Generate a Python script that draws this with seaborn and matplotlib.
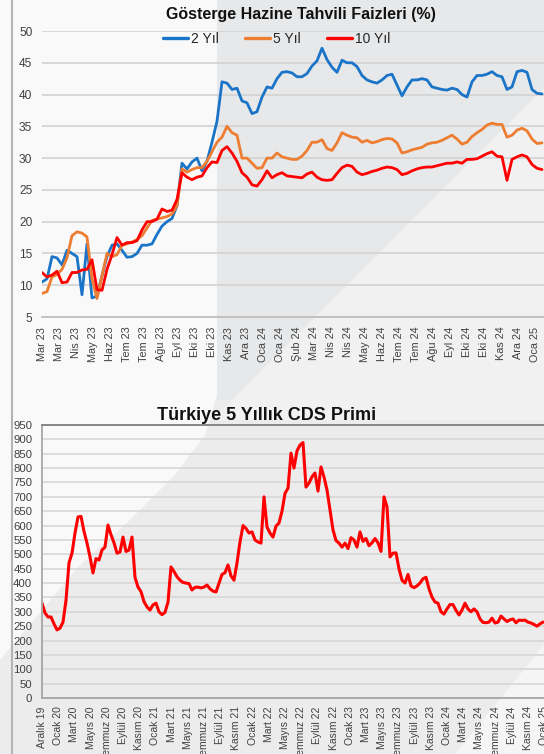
import numpy as np
import pandas as pd
import matplotlib
matplotlib.use("Agg")
import matplotlib.pyplot as plt
import seaborn as sns
from matplotlib.patches import Polygon
from matplotlib.lines import Line2D

# ---------------- data: bond yields (weekly) ----------------
bond_start = "2023-03-01"
bond_labels = ["2 Yıl", "5 Yıl", "10 Yıl"]
bond_2y = [10.5, 11, 14.5, 14.3, 13.2, 15.5, 15, 14.5, 8.5, 16.5,
           8, 8.3, 11.5, 14.5, 16.3, 16.5, 15.5, 14.4, 14.5, 15,
           16.3, 16.3, 16.5, 18, 19.3, 20, 20.5, 22.5, 29.2, 28.3,
           29.4, 30, 28, 29.5, 32.5, 35.8, 42, 41.8, 40.8, 41,
           39, 38.7, 37, 37.3, 39.6, 41.2, 41, 42.5, 43.5, 43.6,
           43.4, 42.8, 42.8, 43.3, 44.5, 45.3, 47.3, 45.5, 44.3, 43.5,
           45.4, 45, 45, 44.4, 43, 42.3, 42, 41.8, 42.3, 43,
           43.2, 41.5, 39.8, 41.2, 42.3, 42.3, 42.5, 42.3, 41.2, 41,
           40.8, 40.7, 41, 40.8, 40, 39.6, 42, 43, 43, 43.2,
           43.6, 43, 42.8, 40.8, 41.2, 43.6, 43.8, 43.5, 40.8, 40.2,
           40.1]
bond_5y = [8.7, 9, 11.3, 11.7, 12.5, 14.3, 17.8, 18.4, 18.2, 17.6,
           11, 7.9, 11.5, 15, 14.5, 14.8, 16.3, 16.5, 16.8, 17.2,
           17.8, 19, 20.2, 20.4, 20.6, 20.8, 21.2, 22.5, 28.3, 27.8,
           28.2, 28.5, 28.5, 29.5, 31, 32.5, 33.3, 35, 34, 33.6,
           30, 30, 29.2, 28.4, 28.5, 30, 30, 30.8, 30.2, 30,
           29.8, 29.8, 30.3, 31.2, 32.5, 32.5, 32.9, 31.5, 31.2, 32.4,
           34, 33.6, 33.3, 33.2, 32.5, 32.8, 32.4, 32.6, 32.9, 33.1,
           33, 32.4, 30.8, 31, 31.3, 31.5, 31.7, 32.2, 32.4, 32.5,
           32.8, 33.2, 33.6, 33, 32.2, 32.5, 33.4, 34, 34.5, 35.2,
           35.5, 35.3, 35.3, 33.3, 33.6, 34.4, 34.7, 34.3, 33, 32.3,
           32.4]
bond_10y = [12, 11.3, 11.6, 12.2, 10.4, 10.5, 12, 12, 12.4, 12.5,
            14, 9.3, 9.2, 12.5, 14.8, 17.5, 16.3, 16.7, 16.7, 17,
            18.7, 20, 20, 20.4, 22, 21.6, 21.8, 23.5, 27.7, 27,
            26.6, 27, 27.2, 28.5, 29.4, 29.3, 31.2, 31.8, 30.8, 29.5,
            27.7, 27, 25.8, 25.6, 26.6, 28, 26.9, 27.4, 27.7, 27.2,
            27.1, 27, 26.9, 27.5, 27.8, 27, 26.6, 26.5, 26.6, 27.6,
            28.5, 28.9, 28.7, 27.8, 27.4, 27.6, 27.9, 28.1, 28.4, 28.6,
            28.5, 28.2, 27.4, 27.6, 28, 28.3, 28.5, 28.6, 28.6, 28.8,
            29, 29.2, 29.2, 29.4, 29.2, 29.8, 29.8, 29.9, 30.3, 30.7,
            31, 30.3, 30.2, 26.5, 29.8, 30.2, 30.5, 30.2, 29, 28.4,
            28.2]
bond_ticks = ["Mar 23", "Mar 23", "Nis 23", "May 23", "Haz 23", "Tem 23", "Tem 23",
              "Ağu 23", "Eyl 23", "Eki 23", "Eki 23", "Kas 23", "Ara 23", "Oca 24",
              "Oca 24", "Şub 24", "Mar 24", "Nis 24", "Nis 24", "May 24", "Haz 24",
              "Tem 24", "Tem 24", "Ağu 24", "Eyl 24", "Eki 24", "Eki 24", "Kas 24",
              "Ara 24", "Oca 25"]

# ---------------- data: CDS (every 11 days) ----------------
cds_start = "2019-12-01"
cds_vals = [330, 296, 282, 282, 258, 237, 243, 264, 340, 470,
            504, 574, 630, 632, 580, 539, 491, 435, 485, 480,
            515, 525, 602, 568, 540, 504, 508, 560, 510, 515,
            560, 420, 386, 370, 335, 317, 306, 324, 330, 300,
            290, 298, 334, 456, 440, 422, 410, 402, 400, 398,
            376, 385, 386, 383, 386, 393, 380, 372, 369, 400,
            430, 436, 463, 425, 410, 470, 543, 600, 590, 574,
            578, 550, 543, 539, 700, 595, 574, 560, 598, 609,
            650, 712, 730, 852, 800, 860, 880, 889, 734, 748,
            770, 783, 720, 804, 769, 724, 654, 585, 548, 539,
            525, 539, 520, 558, 550, 525, 578, 545, 555, 530,
            540, 555, 540, 510, 700, 665, 491, 504, 505, 450,
            410, 400, 430, 390, 384, 390, 400, 415, 420, 380,
            351, 334, 330, 300, 292, 310, 325, 325, 305, 289,
            306, 330, 310, 300, 310, 300, 275, 263, 262, 264,
            278, 261, 264, 285, 275, 266, 272, 275, 262, 271,
            270, 271, 264, 261, 256, 250, 258, 264]
cds_ticks = ["Aralık 19", "Ocak 20", "Mart 20", "Mayıs 20", "Temmuz 20", "Eylül 20",
             "Kasım 20", "Ocak 21", "Mart 21", "Mayıs 21", "Temmuz 21", "Eylül 21",
             "Kasım 21", "Ocak 22", "Mart 22", "Mayıs 22", "Temmuz 22", "Eylül 22",
             "Kasım 22", "Ocak 23", "Mart 23", "Mayıs 23", "Temmuz 23", "Eylül 23",
             "Kasım 23", "Ocak 24", "Mart 24", "Mayıs 24", "Temmuz 24", "Eylül 24",
             "Kasım 24", "Ocak 25"]

# ---------------- figure ----------------
sns.set_theme(style="white")
plt.rcParams["font.family"] = ["Liberation Sans", "DejaVu Sans"]

W, H = 544, 754
fig = plt.figure(figsize=(W / 100, H / 100), dpi=100)
fig.patch.set_facecolor("#ececed")


def fp(pts):
    return [(x / W, 1 - y / H) for x, y in pts]


bg_shapes = [
    ([(0, 0), (217, 0), (217, 395), (205, 435), (175, 475), (130, 520), (80, 565), (0, 660)], "#f9f9f9"),
    ([(217, 0), (544, 0), (544, 88), (232, 400), (217, 400)], "#e7e8ea"),
    ([(544, 88), (544, 420), (212, 420)], "#f1f1f2"),
    ([(544, 645), (544, 754), (455, 754)], "#f5f5f5"),
]
for pts, col in bg_shapes:
    fig.add_artist(Polygon(fp(pts), closed=True, transform=fig.transFigure,
                           facecolor=col, edgecolor="none", zorder=-5))
fig.add_artist(Line2D([12 / W, 12 / W], [0, 1], transform=fig.transFigure,
                      color="#b4b4b4", lw=1.5, zorder=-4))

tick_color = "#404040"

# ---------------- top chart ----------------
d0 = pd.Timestamp(bond_start)
n = len(bond_2y)
dates = d0 + pd.to_timedelta(np.arange(n) * 7, unit="D")
df = pd.DataFrame({"date": dates, "2 Yıl": bond_2y, "5 Yıl": bond_5y, "10 Yıl": bond_10y})

ax1 = fig.add_axes([42 / W, 1 - 317 / H, 502 / W, 286 / H])
ax1.set_facecolor("none")
colors = {"2 Yıl": "#1a74c7", "5 Yıl": "#ed7d31", "10 Yıl": "#ff0000"}
for lab in bond_labels:
    sns.lineplot(data=df, x="date", y=lab, ax=ax1, color=colors[lab], lw=2.0, legend=False)

ax1.set_xlim(d0, d0 + pd.Timedelta(days=702.8))
ax1.set_ylim(5, 50)
ax1.set_yticks(np.arange(5, 51, 5))
ax1.set_yticklabels([str(v) for v in range(5, 51, 5)], fontsize=8.6, color=tick_color)
tick_dates = d0 + pd.to_timedelta(np.arange(len(bond_ticks)) * 23.8, unit="D")
ax1.set_xticks(tick_dates)
ax1.set_xticklabels(bond_ticks, rotation=90, fontsize=7.8, color=tick_color)
ax1.tick_params(axis="x", length=5, width=1, color="#bfbfbf", pad=2)
ax1.tick_params(axis="y", length=0, pad=7)
ax1.yaxis.grid(True, color="#d5d5d5", lw=1.3)
ax1.xaxis.grid(False)
for s in ["left", "right", "top"]:
    ax1.spines[s].set_visible(False)
ax1.spines["bottom"].set_color("#bfbfbf")
ax1.spines["bottom"].set_linewidth(1.3)
ax1.set_xlabel("")
ax1.set_ylabel("")

handles = [Line2D([], [], color=colors[l], lw=2.4) for l in bond_labels]
fig.legend(handles, bond_labels, loc="center", bbox_to_anchor=(276.5 / W, 1 - 39 / H),
           ncol=3, frameon=False, fontsize=10, handlelength=1.8, handletextpad=0.2,
           columnspacing=1.9, labelcolor="#262626")
fig.text(301 / W, 1 - 14 / H, "Gösterge Hazine Tahvili Faizleri (%)", ha="center",
         va="center", fontsize=11.5, fontweight="bold", color="#111111")

# ---------------- bottom chart ----------------
c0 = pd.Timestamp(cds_start)
step = 11
cdates = c0 + pd.to_timedelta(np.arange(len(cds_vals)) * step, unit="D")
cdf = pd.DataFrame({"date": cdates, "cds": cds_vals})
ax2 = fig.add_axes([42 / W, 1 - 698 / H, 510 / W, 273 / H])
ax2.set_facecolor("none")
sns.lineplot(data=cdf, x="date", y="cds", ax=ax2, color="#ff0000", lw=2.2, legend=False)
ax2.set_xlim(c0, c0 + pd.Timedelta(days=510 * step / 3))
ax2.set_ylim(0, 950)
ax2.set_yticks(np.arange(0, 951, 50))
ax2.set_yticklabels([str(v) for v in range(0, 951, 50)], fontsize=8.2, color=tick_color)
ctick = c0 + pd.to_timedelta(np.arange(len(cds_ticks)) * 16.2 * step / 3, unit="D")
ax2.set_xticks(ctick)
ax2.set_xticklabels(cds_ticks, rotation=90, fontsize=7.5, color=tick_color)
ax2.tick_params(axis="x", length=0, pad=6)
ax2.tick_params(axis="y", length=0, pad=7)
ax2.yaxis.grid(True, color="#d9d9d9", lw=1.3)
ax2.xaxis.grid(False)
ax2.spines["top"].set_color("#7f7f7f")
ax2.spines["left"].set_color("#a6a6a6")
ax2.spines["bottom"].set_color("#a6a6a6")
for s in ["top", "left", "bottom"]:
    ax2.spines[s].set_linewidth(1.3)
ax2.spines["right"].set_visible(False)
ax2.set_xlabel("")
ax2.set_ylabel("")
fig.text(267 / W, 1 - 415 / H, "Türkiye 5 Yıllık CDS Primi", ha="center", va="center",
         fontsize=13, fontweight="bold", color="#111111")

fig.savefig("out.png", dpi=100, facecolor=fig.get_facecolor())
